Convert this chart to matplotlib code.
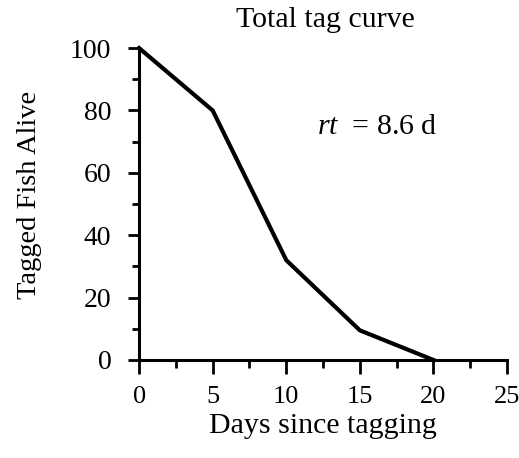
import matplotlib
matplotlib.use("Agg")
import matplotlib.pyplot as plt
from matplotlib.ticker import MultipleLocator

# data
days = [0, 5, 10, 15, 20]
tagged_alive = [100, 80, 32, 9.5, 0]
x_ticks = [0, 5, 10, 15, 20, 25]
y_ticks = [0, 20, 40, 60, 80, 100]

plt.rcParams['font.family'] = ['Liberation Serif', 'DejaVu Serif']
plt.rcParams['mathtext.fontset'] = 'custom'
plt.rcParams['mathtext.it'] = 'Liberation Serif:italic'
plt.rcParams['mathtext.rm'] = 'Liberation Serif'

fig = plt.figure(figsize=(5.19, 4.58), dpi=100)
ax = fig.add_axes([0.268, 0.214, 0.709, 0.681])

ax.plot(days, tagged_alive, color='black', linewidth=3.0, solid_joinstyle='miter', clip_on=False)

ax.set_xlim(0, 25)
ax.set_ylim(0, 100)
ax.set_xticks(x_ticks)
ax.set_yticks(y_ticks)
ax.xaxis.set_minor_locator(MultipleLocator(2.5))
ax.yaxis.set_minor_locator(MultipleLocator(10))

for side in ['top', 'right']:
    ax.spines[side].set_visible(False)
for side in ['left', 'bottom']:
    ax.spines[side].set_linewidth(2.2)

ax.tick_params(which='both', direction='out', width=2, labelsize=20)
ax.tick_params(axis='x', which='major', length=10, pad=9, labelsize=19)
ax.tick_params(axis='x', which='minor', length=6)
ax.tick_params(axis='y', which='major', length=8, pad=12)
ax.tick_params(axis='y', which='minor', length=5)

ax.set_xlabel('Days since tagging', fontsize=21.5, labelpad=3)
ax.set_ylabel('Tagged Fish Alive', fontsize=20.5)
ax.yaxis.set_label_coords(-0.265, 0.53)
fig.text(0.626, 0.956, 'Total tag curve', fontsize=21.5, ha='center', va='center')

ax.text(12.1, 74.7, r'$rt$  = 8.6 d', fontsize=21.5, ha='left', va='center')

fig.savefig('out.png', dpi=100)
